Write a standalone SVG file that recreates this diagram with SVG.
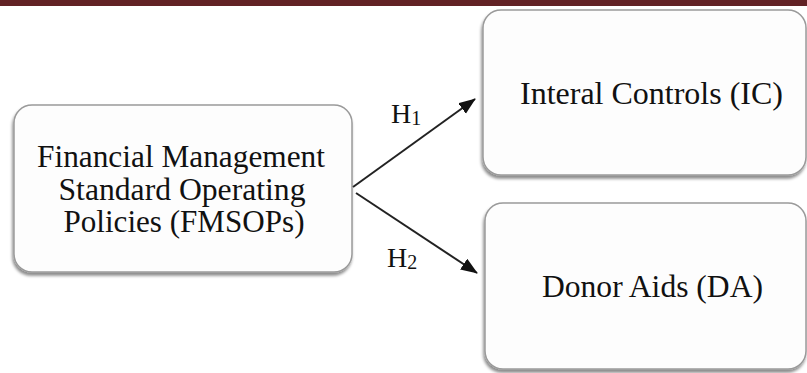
<svg xmlns="http://www.w3.org/2000/svg" width="807" height="373" viewBox="0 0 807 373">
<style>
.box{fill:#fdfdfd;stroke:#9a9a9a;stroke-width:1.5;filter:url(#sh)}
.t{font-family:"Liberation Serif","Times New Roman",serif;font-size:31px;fill:#111;text-anchor:middle}
.h{font-family:"Liberation Serif","Times New Roman",serif;font-size:28px;fill:#111}
.sub{font-size:20px}
.c{stroke:#222;stroke-width:2;fill:none;marker-end:url(#ah)}
</style>
<defs>
<filter id="sh" x="-10%" y="-10%" width="120%" height="130%">
<feDropShadow dx="-1" dy="3" stdDeviation="1.5" flood-color="#000" flood-opacity="0.45"/>
</filter>
<marker id="ah" markerUnits="userSpaceOnUse" markerWidth="18" markerHeight="14" refX="16" refY="6.5" orient="auto">
<path d="M0,0 L17,6.5 L0,13 Z" fill="#111"/>
</marker>
</defs>
<rect x="0" y="0" width="807" height="6" fill="#622225"/>
<g id="fmsops">
<rect class="box" x="14" y="105" width="338" height="167" rx="18"/>
<text class="t" x="181" y="167" textLength="288" lengthAdjust="spacingAndGlyphs">Financial Management</text>
<text class="t" x="182" y="200" textLength="247" lengthAdjust="spacingAndGlyphs">Standard Operating</text>
<text class="t" x="184" y="232" textLength="241" lengthAdjust="spacingAndGlyphs">Policies (FMSOPs)</text>
</g>
<g id="ic">
<rect class="box" x="483" y="10" width="323" height="165" rx="18"/>
<text class="t" x="651.5" y="104" textLength="263" lengthAdjust="spacingAndGlyphs">Interal Controls (IC)</text>
</g>
<g id="da">
<rect class="box" x="485" y="203" width="321" height="166" rx="18"/>
<text class="t" x="652.5" y="297" textLength="221" lengthAdjust="spacingAndGlyphs">Donor Aids (DA)</text>
</g>
<g id="connectors">
<line class="c" x1="353" y1="187" x2="475" y2="99"/>
<line class="c" x1="356" y1="193" x2="477" y2="273"/>
<text class="h" x="391" y="123">H<tspan class="sub" dy="2">1</tspan></text>
<text class="h" x="387" y="267">H<tspan class="sub" dy="2">2</tspan></text>
</g>
</svg>
